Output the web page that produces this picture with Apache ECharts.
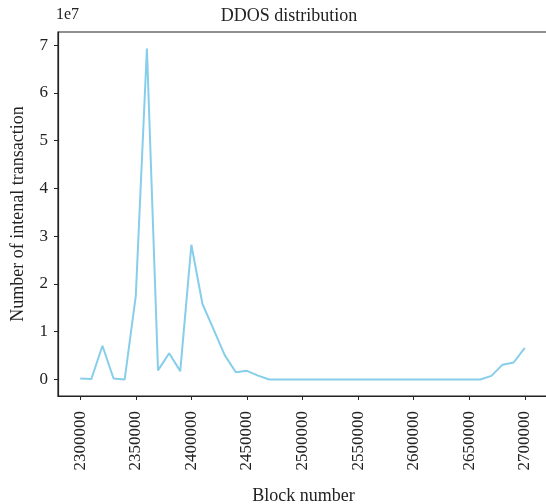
<!DOCTYPE html>
<html>
<head>
<meta charset="utf-8">
<script src="https://cdn.jsdelivr.net/npm/echarts@6/dist/echarts.min.js"></script>
<style>
html,body{margin:0;padding:0;background:#fff;}
#chart{width:546px;height:504px;}
</style>
</head>
<body>
<div id="chart"></div>
<script>
var blocks = [2300000,2310000,2320000,2330000,2340000,2350000,2360000,2370000,2380000,2390000,
  2400000,2410000,2420000,2430000,2440000,2450000,2460000,2470000,2480000,2490000,
  2500000,2510000,2520000,2530000,2540000,2550000,2560000,2570000,2580000,2590000,
  2600000,2610000,2620000,2630000,2640000,2650000,2660000,2670000,2680000,2690000,2700000];
var txCounts = [200000,100000,7050000,200000,0,17500000,69300000,1900000,5500000,1750000,
  28200000,15800000,10500000,5100000,1500000,1800000,800000,0,0,0,
  0,0,0,0,0,0,0,0,0,0,
  0,0,0,0,0,0,0,750000,3100000,3550000,6600000];
var xTicks = [2300000,2350000,2400000,2450000,2500000,2550000,2600000,2650000,2700000];
var yTicks = [0,10000000,20000000,30000000,40000000,50000000,60000000,70000000];

var FONT = '"Liberation Serif", "DejaVu Serif", serif';
var TXT = '#222';
var data = blocks.map(function(b,i){return [b, txCounts[i]];});

var chart = echarts.init(document.getElementById('chart'), null, {renderer:'canvas'});
chart.setOption({
  animation:false,
  backgroundColor:'#fff',
  grid:{left:58, top:32, width:491, height:364, outerBoundsMode:'none', containLabel:false,
    show:true, borderColor:'#222', borderWidth:1.2, backgroundColor:'transparent'},
  graphic:[
    {type:'text', left:56, top:7, style:{text:'1e7', font:'16px '+FONT, fill:TXT}},
    {type:'text', x:289, y:16, style:{text:'DDOS distribution', font:'18px '+FONT, fill:TXT, align:'center', verticalAlign:'middle'}}
  ],
  xAxis:{
    type:'value', min:2280000, max:2721800,
    name:'Block number', nameLocation:'middle', nameGap:91,
    nameTextStyle:{fontFamily:FONT, fontSize:18, color:TXT},
    axisLine:{show:true, onZero:false, lineStyle:{color:'#222', width:1.2}},
    axisTick:{show:true, length:4, customValues:xTicks, lineStyle:{color:'#222'}},
    axisLabel:{customValues:xTicks, rotate:90, margin:15, fontFamily:FONT, fontSize:17, color:TXT,
      formatter:function(v){return String(v);}},
    splitLine:{show:false}
  },
  yAxis:{
    type:'value', min:-3465000, max:72765000,
    name:'Number of intenal transaction', nameLocation:'middle', nameGap:31,
    nameTextStyle:{fontFamily:FONT, fontSize:18, color:TXT},
    axisLine:{show:true, onZero:false, lineStyle:{color:'#222', width:1.2}},
    axisTick:{show:true, length:4, customValues:yTicks, lineStyle:{color:'#222'}},
    axisLabel:{customValues:yTicks, margin:10, fontFamily:FONT, fontSize:17, color:TXT,
      formatter:function(v){return String(Math.round(v/10000000));}},
    splitLine:{show:false}
  },
  series:[{
    type:'line', data:data, showSymbol:false, symbol:'none',
    lineStyle:{color:'#87ceeb', width:2}, itemStyle:{color:'#87ceeb'}
  }]
});
</script>
</body>
</html>
